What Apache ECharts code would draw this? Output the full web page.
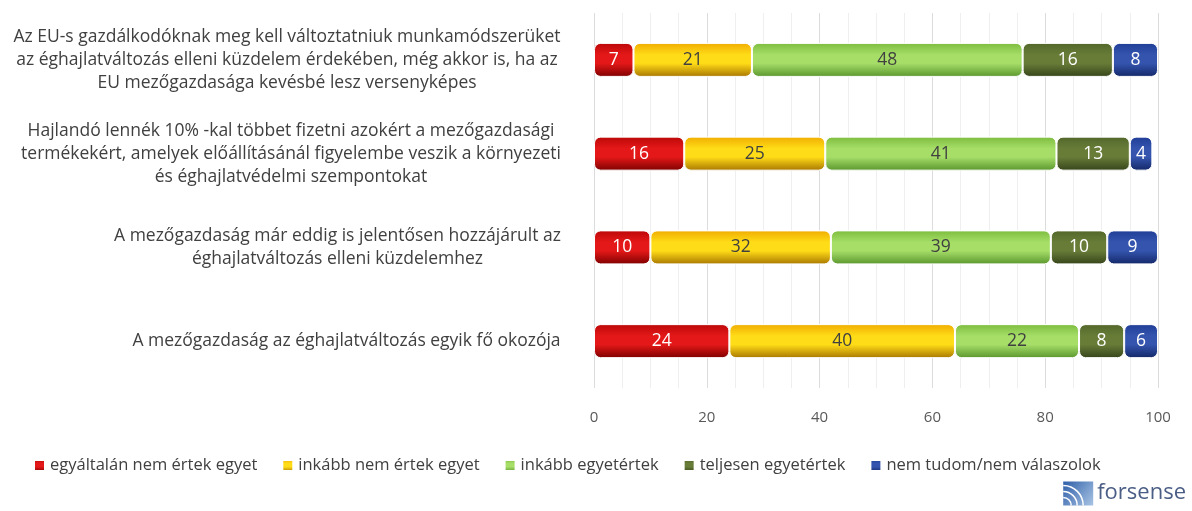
<!DOCTYPE html>
<html>
<head>
<meta charset="utf-8">
<script src="https://cdn.jsdelivr.net/npm/echarts@6/dist/echarts.min.js"></script>
<style>
  html, body { margin: 0; padding: 0; background: #fff; }
  #chart { width: 1192px; height: 511px; }
</style>
</head>
<body>
<div id="chart"></div>
<script>
var categories = [
  'Az EU-s gazdálkodóknak meg kell változtatniuk munkamódszerüket\naz éghajlatváltozás elleni küzdelem érdekében, még akkor is, ha az\nEU mezőgazdasága kevésbé lesz versenyképes',
  'Hajlandó lennék 10% -kal többet fizetni azokért a mezőgazdasági\ntermékekért, amelyek előállításánál figyelembe veszik a környezeti\nés éghajlatvédelmi szempontokat',
  'A mezőgazdaság már eddig is jelentősen hozzájárult az\néghajlatváltozás elleni küzdelemhez',
  'A mezőgazdaság az éghajlatváltozás egyik fő okozója'
]
var seriesNames = ['egyáltalán nem értek egyet', 'inkább nem értek egyet', 'inkább egyetértek', 'teljesen egyetértek', 'nem tudom/nem válaszolok']
var egyaltalanNem = [7, 16, 10, 24]
var inkabbNem = [21, 25, 32, 40]
var inkabbIgen = [48, 41, 39, 22]
var teljesen = [16, 13, 10, 8]
var nemTudom = [8, 4, 9, 6]
var xTicks = [0, 20, 40, 60, 80, 100]

var FONT = '"Open Sans", "Noto Sans", sans-serif'
var LABEL_SIZE = 17.5

// glossy look: dark edge, light band, dark bottom
var grad = function(top, mid, bottom) {
  return new echarts.graphic.LinearGradient(0, 0, 0, 1, [
    { offset: 0, color: top },
    { offset: 0.35, color: mid },
    { offset: 0.6, color: mid },
    { offset: 1, color: bottom }
  ])
}
var colors = [
  grad('#bb0808', '#e41818', '#7e0000'),
  grad('#f0ac00', '#ffdc18', '#a87600'),
  grad('#7cbc3e', '#a6de68', '#5a962e'),
  grad('#52662a', '#687c38', '#36441a'),
  grad('#203e96', '#3454ae', '#142868')
]
var labelColors = ['#fff', '#404040', '#404040', '#fff', '#fff']

// widths for centring each line inside a right-aligned block
var ctx = document.createElement('canvas').getContext('2d')
ctx.font = LABEL_SIZE + 'px ' + FONT
var rich = {}
categories.forEach(function(c, i) {
  var w = 0
  c.split('\n').forEach(function(l) { w = Math.max(w, ctx.measureText(l).width) })
  rich['c' + i] = {
    width: Math.ceil(w) + 2, align: 'center', color: '#404040',
    fontSize: LABEL_SIZE, fontFamily: FONT, lineHeight: 23
  }
})

var allData = [egyaltalanNem, inkabbNem, inkabbIgen, teljesen, nemTudom]
var series = allData.map(function(d, i) {
  return {
    name: seriesNames[i],
    type: 'bar',
    stack: 'total',
    data: d,
    barWidth: 34,
    itemStyle: {
      color: colors[i],
      borderRadius: 6,
      borderColor: '#fff',
      borderWidth: 1
    },
    label: {
      show: true,
      position: 'inside',
      color: labelColors[i],
      fontSize: 17.5,
      fontFamily: FONT
    }
  }
})

var chart = echarts.init(document.getElementById('chart'))
chart.setOption({
  animation: false,
  grid: { left: 594, right: 34, top: 13, bottom: 123 },
  legend: {
    data: seriesNames,
    left: 28,
    top: 452,
    width: 1150,
    icon: 'rect',
    itemWidth: 11,
    itemHeight: 11,
    itemGap: 24,
    textStyle: { color: '#404040', fontSize: 16.5, fontFamily: FONT }
  },
  xAxis: {
    type: 'value',
    min: xTicks[0],
    max: xTicks[xTicks.length - 1],
    interval: 20,
    axisLine: { show: false },
    axisTick: { show: false },
    axisLabel: { color: '#595959', fontSize: 15, fontFamily: FONT, margin: 22 },
    splitLine: { show: true, lineStyle: { color: '#dcdcdc' } },
    minorTick: { show: false, splitNumber: 4 },
    minorSplitLine: { show: true, lineStyle: { color: '#efefef' } }
  },
  yAxis: {
    type: 'category',
    inverse: true,
    data: categories,
    axisLine: { show: false },
    axisTick: { show: false },
    axisLabel: {
      margin: 32,
      formatter: function(value) {
        var i = categories.indexOf(value)
        return value.split('\n').map(function(l) { return '{c' + i + '|' + l + '}' }).join('\n')
      },
      rich: rich
    }
  },
  series: series,
  graphic: [{
    type: 'group',
    right: 6,
    bottom: 3,
    children: [
      {
        type: 'rect',
        shape: { x: 0, y: 0, width: 30, height: 24 },
        style: {
          fill: new echarts.graphic.LinearGradient(0, 0, 1, 1, [
            { offset: 0, color: '#2f5fa8' },
            { offset: 1, color: '#a8c4e4' }
          ])
        }
      },
      { type: 'arc', shape: { cx: 0, cy: 24, r: 8, startAngle: -Math.PI / 2, endAngle: 0 }, style: { stroke: '#fff', lineWidth: 1.5, fill: null } },
      { type: 'arc', shape: { cx: 0, cy: 24, r: 14, startAngle: -Math.PI / 2, endAngle: 0 }, style: { stroke: '#fff', lineWidth: 1.5, fill: null } },
      { type: 'arc', shape: { cx: 0, cy: 24, r: 20, startAngle: -Math.PI / 2, endAngle: 0 }, style: { stroke: '#fff', lineWidth: 1.5, fill: null } },
      {
        type: 'text',
        x: 34,
        y: 0,
        style: { text: 'forsense', fill: '#4a5d85', fontSize: 22, fontFamily: FONT }
      }
    ]
  }]
})
</script>
</body>
</html>
